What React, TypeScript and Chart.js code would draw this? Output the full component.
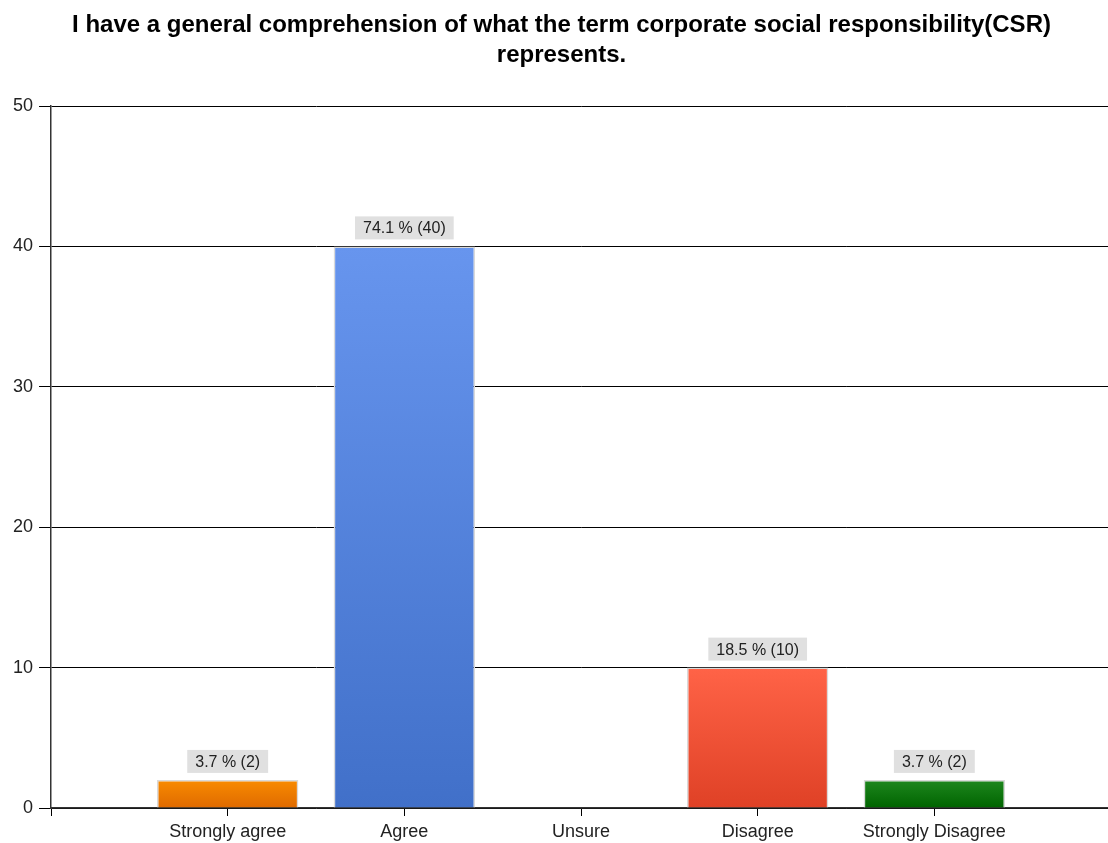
import React, { useEffect, useRef } from "react";
import { Chart, registerables } from "chart.js";

Chart.register(...registerables);

const TITLE_LINES = [
  "I have a general comprehension of what the term corporate social responsibility(CSR)",
  "represents.",
];
const CATEGORIES = ["", "Strongly agree", "Agree", "Unsure", "Disagree", "Strongly Disagree", ""];
const COUNTS: (number | null)[] = [null, 2, 40, 0, 10, 2, null];
const Y_TICKS = [0, 10, 20, 30, 40, 50];
const TOP_COLORS = ["#000", "#f98b00", "#6795ee", "#888", "#ff6347", "#1e871e", "#000"];
const BOTTOM_COLORS = ["#000", "#df6a00", "#4170c9", "#888", "#df4126", "#006400", "#000"];

const FONT = "'Liberation Sans', Arial, sans-serif";

const total = COUNTS.reduce((s: number, v) => s + (v || 0), 0) as number;

const labelPlugin = {
  id: "barLabels",
  afterDatasetsDraw(chart: any) {
    const ctx = chart.ctx;
    const meta = chart.getDatasetMeta(0);
    ctx.save();
    ctx.font = `16px ${FONT}`;
    ctx.textAlign = "center";
    ctx.textBaseline = "middle";
    meta.data.forEach((bar: any, i: number) => {
      const v = COUNTS[i];
      if (!v) return;
      const text = `${((v / total) * 100).toFixed(1)} % (${v})`;
      const w = ctx.measureText(text).width + 16;
      const h = 23;
      const bottom = bar.y - 7;
      ctx.fillStyle = "#e0e0e0";
      ctx.fillRect(bar.x - w / 2, bottom - h, w, h);
      ctx.fillStyle = "#222";
      ctx.fillText(text, bar.x, bottom - h / 2 + 1);
    });
    ctx.restore();
  },
};

export default function App() {
  const ref = useRef<HTMLCanvasElement | null>(null);
  useEffect(() => {
    if (!ref.current) return;
    const chart = new Chart(ref.current, {
      type: "bar",
      data: {
        labels: CATEGORIES,
        datasets: [
          {
            data: COUNTS,
            backgroundColor: (c: any) => {
              const ch = c.chart;
              const i = c.dataIndex;
              const v = COUNTS[i];
              if (!ch.chartArea || !ch.scales || !ch.scales.y || v == null) return TOP_COLORS[i];
              const y0 = ch.scales.y.getPixelForValue(v);
              const y1 = ch.scales.y.getPixelForValue(0);
              if (y1 - y0 < 1) return TOP_COLORS[i];
              const g = ch.ctx.createLinearGradient(0, y0, 0, y1);
              g.addColorStop(0, TOP_COLORS[i]);
              g.addColorStop(1, BOTTOM_COLORS[i]);
              return g;
            },
            borderColor: "#d9d9d9",
            borderWidth: 1.5,
            barPercentage: 1,
            categoryPercentage: 0.8,
          },
        ],
      },
      options: {
        animation: false,
        responsive: false,
        layout: { padding: { left: 7, right: 0, top: 0, bottom: 0 } },
        plugins: {
          legend: { display: false },
          tooltip: { enabled: false },
          title: {
            display: true,
            text: TITLE_LINES,
            color: "#000",
            font: { family: FONT, size: 24, weight: "bold", lineHeight: 1.25 },
            padding: { top: 10, bottom: 36 },
          },
        },
        scales: {
          x: {
            type: "category",
            offset: false,
            afterFit: (s: any) => {
              s.height = 35;
            },
            grid: {
              display: true,
              offset: false,
              drawOnChartArea: false,
              drawTicks: true,
              tickLength: 8,
              color: (c: any) => (c.index === CATEGORIES.length - 1 ? "rgba(0,0,0,0)" : "#000"),
              lineWidth: 1,
            },
            border: { display: true, color: "#333", width: 1.5 },
            ticks: {
              color: "#222",
              font: { family: FONT, size: 18 },
              padding: 5,
              maxRotation: 0,
              autoSkip: false,
            },
          },
          y: {
            min: 0,
            max: 50,
            afterBuildTicks: (s: any) => {
              s.ticks = Y_TICKS.map((v) => ({ value: v }));
            },
            grid: {
              display: true,
              drawOnChartArea: true,
              drawTicks: true,
              tickLength: 12,
              color: "#000",
              lineWidth: 1,
            },
            border: { display: true, color: "#333", width: 1.5 },
            ticks: {
              color: "#222",
              font: { family: FONT, size: 18 },
              padding: 6,
            },
          },
        },
      },
      plugins: [labelPlugin],
    } as any);
    return () => chart.destroy();
  }, []);
  return (
    <div style={{ position: "absolute", left: 0, top: 0, width: 1108, height: 843, background: "#fff", overflow: "hidden" }}>
      <canvas ref={ref} width={1116} height={843} style={{ display: "block" }} />
    </div>
  );
}
